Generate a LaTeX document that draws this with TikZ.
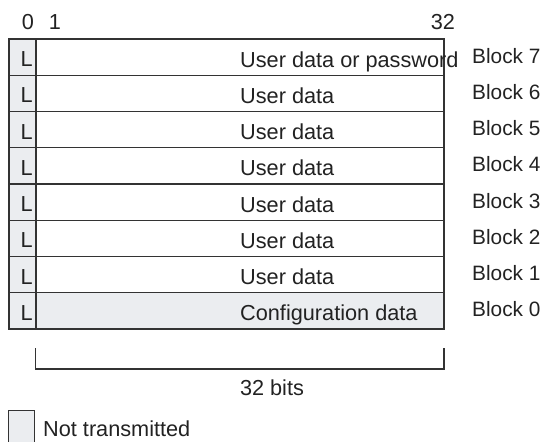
\documentclass[tikz,border=0pt]{standalone}
\usepackage{fontspec}
\setmainfont{Liberation Sans}
\definecolor{linec}{HTML}{333333}
\definecolor{shadec}{HTML}{EBEDF0}
\definecolor{txt}{HTML}{222222}
\begin{document}
\begin{tikzpicture}[x=1pt,y=-1pt,
  cell/.style={draw=linec,line width=1.3pt,inner sep=0pt,outer sep=0pt},
  lbl/.style={font=\fontsize{21.7}{24}\selectfont,text=txt,inner sep=0pt},
  blk/.style={font=\fontsize{20.8}{24}\selectfont,text=txt,inner sep=0pt,anchor=base west}]
\useasboundingbox (0,0) rectangle (547,442);
% rows
\def\rh{36.25}
\foreach \i/\t/\b in {0/User data or password/7,1/User data/6,2/User data/5,3/User data/4,4/User data/3,5/User data/2,6/User data/1,7/Configuration data/0}{
  \pgfmathsetmacro{\rtop}{39+\i*\rh}
  \ifnum\b=0
    \node[cell,fill=shadec,anchor=north west,minimum width=408pt,minimum height=\rh pt] (row\b) at (36,\rtop) {};
  \else
    \node[cell,fill=white,anchor=north west,minimum width=408pt,minimum height=\rh pt] (row\b) at (36,\rtop) {};
  \fi
  \node[cell,fill=shadec,anchor=north west,minimum width=27pt,minimum height=\rh pt] (l\b) at (9,\rtop) {};
  \node[lbl,anchor=base east] (lt\b) at ([xshift=-3pt,yshift=-27.5pt]l\b.north east) {L};
  \node[lbl,anchor=base west] (rt\b) at ([xshift=204pt,yshift=-28pt]row\b.north west) {\t};
  \node[blk] (bk\b) at ([xshift=28pt,yshift=-24pt]row\b.north east) {Block \b};
}
% header
\node[lbl,anchor=base] (h0) at (28,29) {0};
\node[lbl,anchor=base] (h1) at (55,29) {1};
\node[lbl,anchor=base] (h32) at (443,29) {32};
% bracket
\coordinate (bl) at (35.5,348);
\coordinate (br) at (444,348);
\draw[linec,line width=1.5pt] (bl) -- (bl |- 0,369) -- (br |- 0,369) -- (br);
\node[lbl,anchor=base] (bits) at (272,395) {32 bits};
% legend
\fill[shadec] (8,410) rectangle (34,443);
\draw[linec,line width=1pt] (8,443) -- (8,410) -- (34,410) -- (34,443);
\node[lbl,anchor=base west] (nt) at (43,436.5) {Not transmitted};
\end{tikzpicture}
\end{document}
